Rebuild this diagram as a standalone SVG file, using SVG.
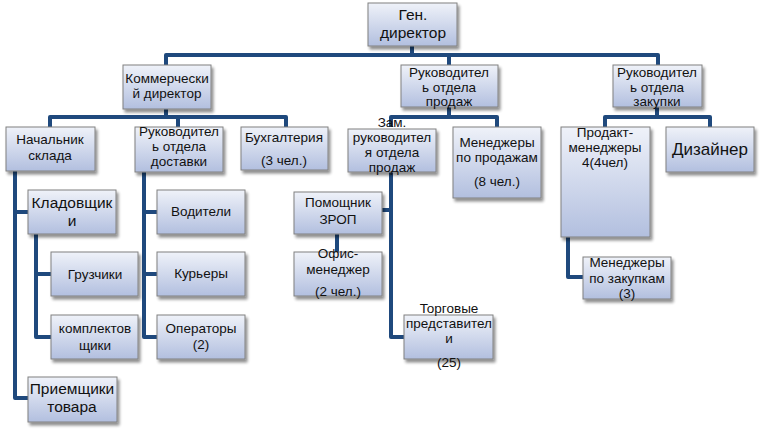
<svg xmlns="http://www.w3.org/2000/svg" width="761" height="432" viewBox="0 0 761 432">
<defs>
<linearGradient id="g" x1="0" y1="0" x2="0" y2="1">
<stop offset="0" stop-color="#eff2f9"/>
<stop offset="1" stop-color="#b2bfdf"/>
</linearGradient>
<filter id="sh" x="-10%" y="-10%" width="130%" height="140%">
<feGaussianBlur in="SourceAlpha" stdDeviation="1.5"/>
<feOffset dx="1.5" dy="2.5"/>
<feComponentTransfer><feFuncA type="linear" slope="0.45"/></feComponentTransfer>
<feMerge><feMergeNode/><feMergeNode in="SourceGraphic"/></feMerge>
</filter>
</defs>
<style>
rect{fill:url(#g);stroke:#808080;stroke-width:1;filter:url(#sh)}
text{font-family:"Liberation Sans","Noto Sans",sans-serif;font-size:13.5px;fill:#111;text-anchor:middle}
.b{font-size:15.5px}
.c{font-size:17px}
#connectors path{fill:none;stroke:#1f497d;stroke-width:4;stroke-linejoin:round;stroke-linecap:butt}
</style>
<g id="connectors">
<path d="M412 46V55M166 65V55H658V65M449 55V65"/>
<path d="M166 109V117M50 127V117H286V127M178 117V127"/>
<path d="M449 107V117M391 127V117H497V127"/>
<path d="M657 107V117M605 127V117H710V127"/>
<path d="M15 171V398H28M15 212H28"/>
<path d="M36 234V337H51M36 274H51"/>
<path d="M144 172V337H157M144 212H157M144 274H157"/>
<path d="M391 172V337H404M382 210H391"/>
<path d="M337 234V252"/>
<path d="M568 237V277H583"/>
</g>
<g id="gen"><rect x="368" y="3" width="89" height="43"/><text class="b" x="413" y="20">Ген.</text><text class="b" x="413" y="38">директор</text></g>
<g id="kom"><rect x="123" y="65" width="88" height="44"/><text x="167" y="83">Коммерчески</text><text x="167" y="98">й директор</text></g>
<g id="prod"><rect x="401" y="65" width="97" height="42"/><text x="449" y="77">Руководител</text><text x="449" y="92">ь отдела</text><text x="449" y="106">продаж</text></g>
<g id="zak"><rect x="613" y="65" width="89" height="42"/><text x="657" y="77">Руководител</text><text x="657" y="92">ь отдела</text><text x="657" y="106">закупки</text></g>
<g id="sklad"><rect x="6" y="127" width="89" height="44"/><text x="50" y="144">Начальник</text><text x="50" y="160">склада</text></g>
<g id="dost"><rect x="135" y="127" width="88" height="45"/><text x="179" y="136">Руководител</text><text x="179" y="151">ь отдела</text><text x="179" y="166">доставки</text></g>
<g id="buh"><rect x="241" y="127" width="87" height="43"/><text x="284" y="142">Бухгалтерия</text><text x="284" y="165">(3 чел.)</text></g>
<g id="klad"><rect x="28" y="190" width="88" height="44"/><text class="b" x="72" y="208">Кладовщик</text><text class="b" x="72" y="226">и</text></g>
<g id="gruz"><rect x="51" y="252" width="87" height="44"/><text x="95" y="279">Грузчики</text></g>
<g id="kompl"><rect x="51" y="315" width="87" height="44"/><text x="95" y="333">комплектов</text><text x="95" y="350">щики</text></g>
<g id="priem"><rect x="28" y="377" width="89" height="45"/><text class="b" x="72" y="394">Приемщики</text><text class="b" x="72" y="412">товара</text></g>
<g id="vod"><rect x="157" y="190" width="88" height="44"/><text x="201" y="216">Водители</text></g>
<g id="kur"><rect x="157" y="252" width="88" height="44"/><text x="201" y="278">Курьеры</text></g>
<g id="oper"><rect x="157" y="315" width="88" height="44"/><text x="201" y="333">Операторы</text><text x="201" y="349">(2)</text></g>
<g id="zam"><rect x="348" y="129" width="88" height="43"/><text x="392" y="127">Зам.</text><text x="392" y="142">руководител</text><text x="392" y="157">я отдела</text><text x="392" y="172">продаж</text></g>
<g id="menprod"><rect x="453" y="127" width="88" height="71"/><text x="497" y="147">Менеджеры</text><text x="497" y="162">по продажам</text><text x="497" y="186">(8 чел.)</text></g>
<g id="pom"><rect x="294" y="192" width="88" height="42"/><text x="338" y="207">Помощник</text><text x="338" y="224">ЗРОП</text></g>
<g id="ofis"><rect x="294" y="252" width="88" height="44"/><text x="338" y="258">Офис-</text><text x="338" y="274">менеджер</text><text x="338" y="296">(2 чел.)</text></g>
<g id="torg"><rect x="404" y="315" width="89" height="44"/><text x="449" y="313">Торговые</text><text x="449" y="328">представител</text><text x="449" y="343">и</text><text x="449" y="367">(25)</text></g>
<g id="prodakt"><rect x="561" y="127" width="89" height="110"/><text x="605" y="137">Продакт-</text><text x="605" y="152">менеджеры</text><text x="605" y="167">4(4чел)</text></g>
<g id="diz"><rect x="666" y="127" width="88" height="45"/><text class="c" x="710" y="155">Дизайнер</text></g>
<g id="menzak"><rect x="583" y="257" width="88" height="42"/><text x="627" y="267">Менеджеры</text><text x="627" y="283">по закупкам</text><text x="627" y="298">(3)</text></g>
</svg>
